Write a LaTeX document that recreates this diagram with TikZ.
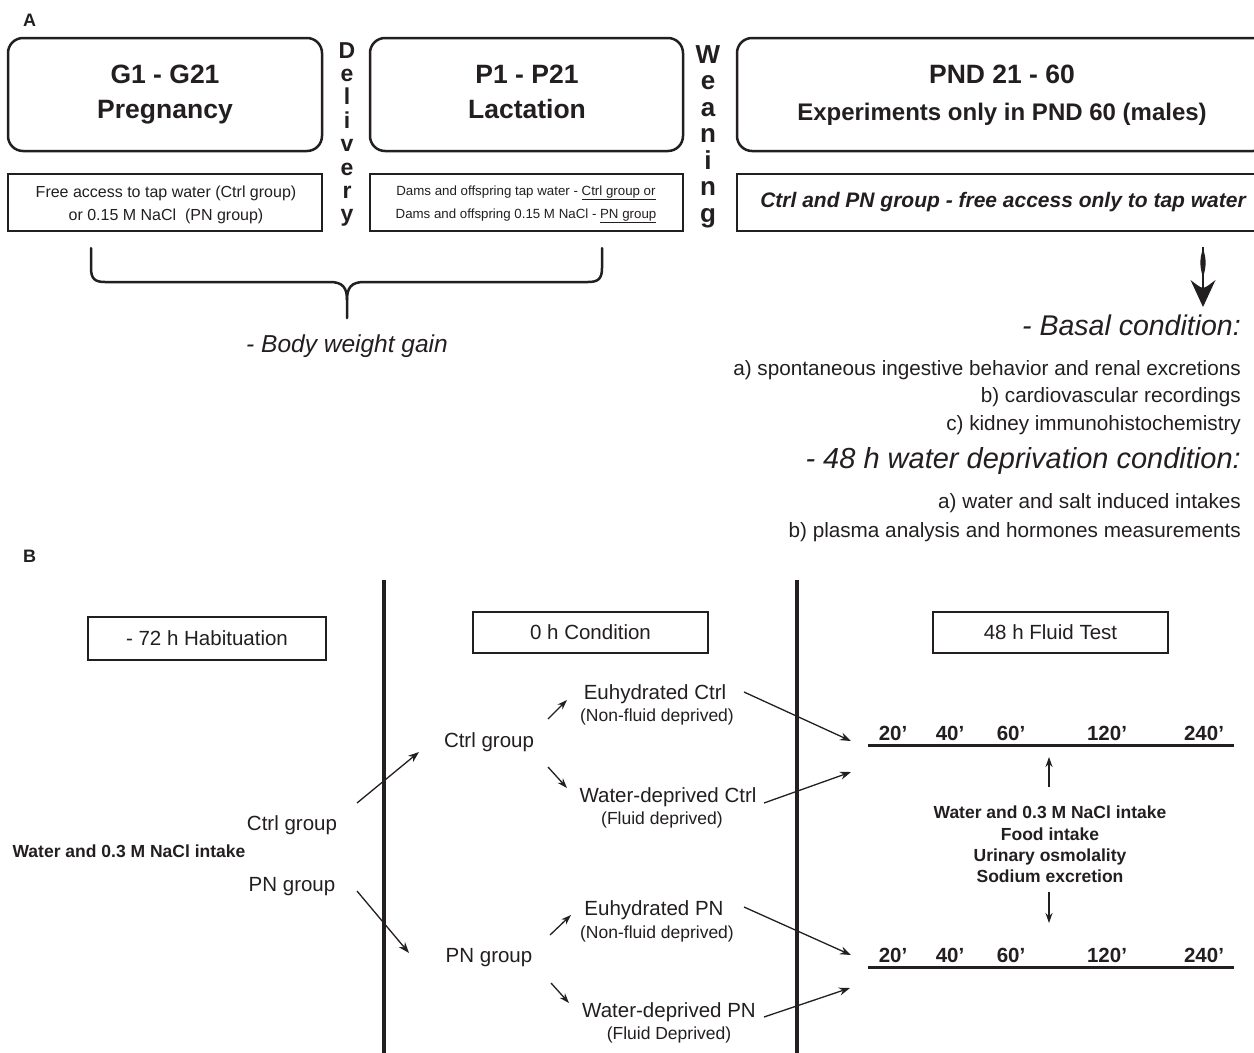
\documentclass[tikz,border=0pt]{standalone}
\usepackage{fontspec}
\setmainfont{Liberation Sans}
\usetikzlibrary{arrows.meta}
\definecolor{ink}{RGB}{35,31,32}
\newcommand{\fsz}[1]{\fontsize{#1}{#1}\selectfont}
\begin{document}
\begin{tikzpicture}[x=1pt,y=-1pt,
  rbox/.style={draw=ink, line width=2.5pt, rounded corners=15pt, inner sep=0pt},
  sbox/.style={draw=ink, line width=2.5pt, inner sep=0pt},
  tbox/.style={draw=ink, line width=2pt, inner sep=0pt},
  txt/.style={inner sep=0pt, text=ink, anchor=base},
  rtxt/.style={inner sep=0pt, text=ink, anchor=base east},
  ltxt/.style={inner sep=0pt, text=ink, anchor=base west},
  ttl/.style={txt, font=\bfseries\fsz{26.5}},
  reg/.style={txt, font=\fsz{20.5}},
  sml/.style={txt, font=\fsz{17.5}},
  bsm/.style={txt, font=\bfseries\fsz{17.5}},
  tl/.style={txt, font=\bfseries\fsz{20.5}},
  arr/.style={draw=ink, line width=1.3pt, -{Stealth[length=11pt,width=8pt]}},
  sarr/.style={draw=ink, line width=1.3pt, -{Stealth[length=10pt,width=7pt]}},
  brace/.style={draw=ink, line width=2.5pt, line cap=round},
  vline/.style={draw=ink, line width=4.5pt},
  tline/.style={draw=ink, line width=3pt}]
\useasboundingbox (0,0) rectangle (1254,1053);
\fill[white] (0,0) rectangle (1254,1053);
\clip (0,0) rectangle (1254,1053);

% ---------------- Panel A ----------------
\node[ltxt, font=\bfseries\fsz{18}] (la) at (23,26) {A};

\node[rbox, minimum width=314pt, minimum height=113pt] (g) at (165,94.5) {};
\node[ttl] (gt1) at (165,83) {G1 - G21};
\node[ttl] (gt2) at (165,118) {Pregnancy};

\node[rbox, minimum width=313pt, minimum height=113pt] (p) at (526.5,94.5) {};
\node[ttl] (pt1) at (527,83) {P1 - P21};
\node[ttl] (pt2) at (527,118) {Lactation};

\node[rbox, minimum width=531pt, minimum height=113pt] (n) at (1002.5,94.5) {};
\node[ttl] (nt1) at (1002,83) {PND 21 - 60};
\node[txt, font=\bfseries\fsz{24}] (nt2) at (1002,120) {Experiments only in PND 60 (males)};

\node[sbox, minimum width=314pt, minimum height=57pt] (gl) at (165,202.5) {};
\node[txt, font=\fsz{16}] (glt1) at (166,197) {Free access to tap water (Ctrl group)};
\node[txt, font=\fsz{16}] (glt2) at (166,220) {or 0.15 M NaCl\ \ (PN group)};

\node[sbox, minimum width=313pt, minimum height=57pt] (pl) at (526.5,202.5) {};
\node[txt, font=\fsz{13.3}] (plt1) at (526,195) {Dams and offspring tap water - \underline{Ctrl group or}};
\node[txt, font=\fsz{13.3}] (plt2) at (526,218) {Dams and offspring 0.15 M NaCl - \underline{PN group}};

\node[sbox, minimum width=531pt, minimum height=57pt] (nl) at (1002.5,202.5) {};
\node[txt, font=\bfseries\itshape\fsz{21}] (nlt) at (1003,207) {Ctrl and PN group - free access only to tap water};

\foreach \l [count=\i] in {D,e,l,i,v,e,r,y}
  \node[txt, font=\bfseries\fsz{23}] (dl\i) at (347,{58+23.4*(\i-1)}) {\l};
\foreach \l [count=\i] in {W,e,a,n,i,n,g}
  \node[txt, font=\bfseries\fsz{26}] (wl\i) at (708,{63+26.5*(\i-1)}) {\l};

% brace
\coordinate (brl) at (91,248);
\coordinate (brr) at (602,248);
\coordinate (brt) at (347,318);
\draw[brace] (brl) -- (91,268) .. controls (91,279) and (95,282) .. (105,282) -- (330,282)
  .. controls (343,282) and (347,288) .. (347,300) -- (brt);
\draw[brace] (brr) -- (602,268) .. controls (602,279) and (598,282) .. (588,282) -- (364,282)
  .. controls (351,282) and (347,288) .. (347,300);
\node[txt, font=\itshape\fsz{24.5}] (bwg) at (347,352) {- Body weight gain};

% right arrow
\coordinate (bt) at (1203,247);
\coordinate (bh) at (1203,307);
\draw[ink, line width=1.2pt] (bt) -- (1203,290);
\fill[ink] (1203,249) .. controls (1206.5,258) and (1206.5,267) .. (1203,277)
  .. controls (1199.5,267) and (1199.5,258) .. (1203,249) -- cycle;
\fill[ink] (bh) -- (1190.5,280) .. controls (1196,284) and (1199,287) .. (1203,288)
  .. controls (1207,287) and (1210,284) .. (1215.5,280) -- cycle;

\node[rtxt, font=\itshape\fsz{28.5}] (bas) at (1241,335) {- Basal condition:};
\node[rtxt, font=\fsz{20.7}] (ba) at (1241,375) {a) spontaneous ingestive behavior and renal excretions};
\node[rtxt, font=\fsz{20.7}] (bb) at (1241,402) {b) cardiovascular recordings};
\node[rtxt, font=\fsz{20.7}] (bc) at (1241,430) {c) kidney immunohistochemistry};
\node[rtxt, font=\itshape\fsz{29}] (wd) at (1241,468) {- 48 h water deprivation condition:};
\node[rtxt, font=\fsz{20.7}] (wa) at (1241,508) {a) water and salt induced intakes};
\node[rtxt, font=\fsz{20.7}] (wb) at (1241,537) {b) plasma analysis and hormones measurements};

% ---------------- Panel B ----------------
\node[ltxt, font=\bfseries\fsz{18}] (lb) at (23,562) {B};

\coordinate (v1t) at (384,580); \coordinate (v1b) at (384,1060);
\coordinate (v2t) at (797,580); \coordinate (v2b) at (797,1060);
\draw[vline] (v1t) -- (v1b);
\draw[vline] (v2t) -- (v2b);

\node[tbox, minimum width=238pt, minimum height=43pt] (hab) at (207,638.5) {};
\node[reg] (habt) at (207,645) {- 72 h Habituation};
\node[tbox, minimum width=235pt, minimum height=41pt] (cond) at (590.5,632.5) {};
\node[reg] (condt) at (590.5,639) {0 h Condition};
\node[tbox, minimum width=235pt, minimum height=41pt] (flu) at (1050.5,632.5) {};
\node[reg] (flut) at (1050.5,639) {48 h Fluid Test};

\node[reg] (lctrl) at (292,830) {Ctrl group};
\node[bsm] (lwat) at (129,857) {Water and 0.3 M NaCl intake};
\node[reg] (lpn) at (292,891) {PN group};

\node[reg] (mctrl) at (489,747) {Ctrl group};
\node[reg] (mpn) at (489,962) {PN group};

\node[reg] (euc) at (655,699) {Euhydrated Ctrl};
\node[sml] (euc2) at (657,721) {(Non-fluid deprived)};
\node[reg] (wdc) at (668,802) {Water-deprived Ctrl};
\node[sml] (wdc2) at (662,824) {(Fluid deprived)};
\node[reg] (eup) at (654,915) {Euhydrated PN};
\node[sml] (eup2) at (657,938) {(Non-fluid deprived)};
\node[reg] (wdp) at (669,1017) {Water-deprived PN};
\node[sml] (wdp2) at (669,1039) {(Fluid Deprived)};

% arrows left -> middle
\coordinate (a1s) at (357,803); \coordinate (a1e) at (419,752);
\coordinate (a2s) at (357,891); \coordinate (a2e) at (409,953);
\draw[arr] (a1s) -- (a1e);
\draw[arr] (a2s) -- (a2e);

% short arrows
\coordinate (s1s) at (548,719); \coordinate (s1e) at (567,700);
\coordinate (s2s) at (548,767); \coordinate (s2e) at (567,788);
\coordinate (s3s) at (550,935); \coordinate (s3e) at (571,915);
\coordinate (s4s) at (551,983); \coordinate (s4e) at (569,1003);
\draw[sarr] (s1s) -- (s1e);
\draw[sarr] (s2s) -- (s2e);
\draw[sarr] (s3s) -- (s3e);
\draw[sarr] (s4s) -- (s4e);

% long arrows to timelines
\coordinate (l1s) at (744,692); \coordinate (l1e) at (851,741);
\coordinate (l2s) at (764,803); \coordinate (l2e) at (851,772);
\coordinate (l3s) at (744,907); \coordinate (l3e) at (851,955);
\coordinate (l4s) at (764,1017); \coordinate (l4e) at (850,988);
\draw[arr] (l1s) -- (l1e);
\draw[arr] (l2s) -- (l2e);
\draw[arr] (l3s) -- (l3e);
\draw[arr] (l4s) -- (l4e);

% timelines
\coordinate (t1a) at (868,745); \coordinate (t1b) at (1234,745);
\coordinate (t2a) at (868,967); \coordinate (t2b) at (1234,967);
\draw[tline] (t1a) -- (t1b);
\draw[tline] (t2a) -- (t2b);
\foreach \t/\xx [count=\i] in {20’/893,40’/950,60’/1011,120’/1107,240’/1204}{
  \node[tl] (ta\i) at (\xx,740) {\t};
  \node[tl] (tb\i) at (\xx,962) {\t};
}

\node[bsm] (c1) at (1050,818) {Water and 0.3 M NaCl intake};
\node[bsm] (c2) at (1050,840) {Food intake};
\node[bsm] (c3) at (1050,861) {Urinary osmolality};
\node[bsm] (c4) at (1050,882) {Sodium excretion};
\coordinate (u1) at (1049,787); \coordinate (u2) at (1049,757);
\coordinate (d1) at (1049,892); \coordinate (d2) at (1049,923);
\draw[sarr] (u1) -- (u2);
\draw[sarr] (d1) -- (d2);
\end{tikzpicture}
\end{document}
